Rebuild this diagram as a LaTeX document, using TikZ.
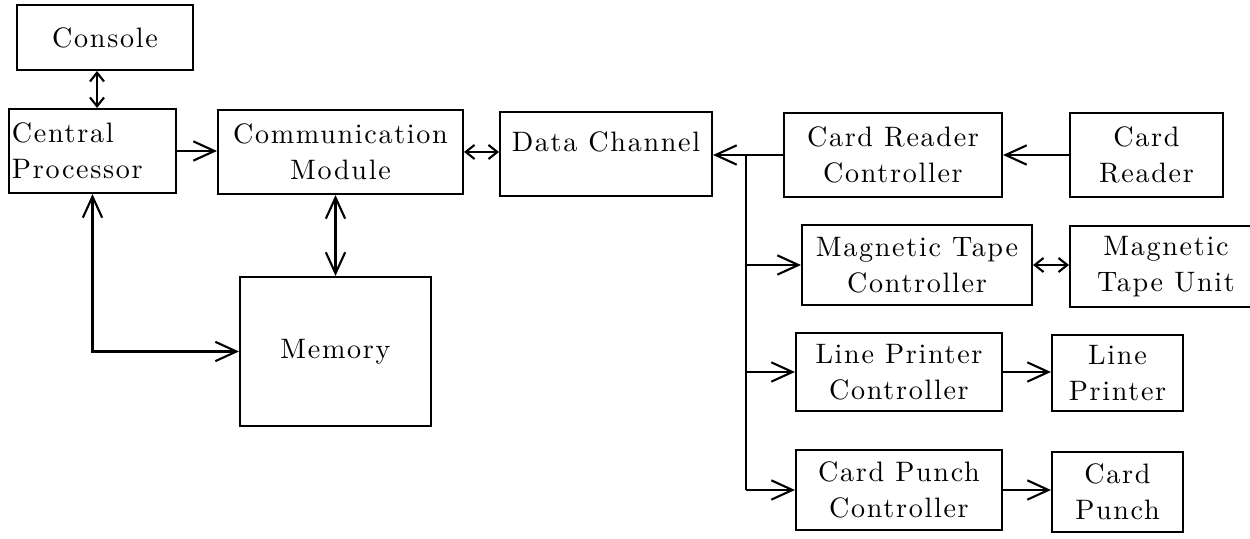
\documentclass[tikz,border=0pt]{standalone}
\usepackage{fontspec}
\setmainfont{lmroman10-regular}[Extension=.otf, LetterSpace=6]
\usetikzlibrary{arrows.meta}

\begin{document}
\begin{tikzpicture}[
    every node/.style={font=\fontsize{16}{20.5}\selectfont},
    unit/.style={draw, line width=1.2pt, align=center, inner sep=0pt},
    link/.style={line width=1.2pt},
    sbarb/.tip={Straight Barb[length=5pt,width=8pt]},
    lbarb/.tip={Straight Barb[length=12pt,width=11pt]}
]
    \useasboundingbox (0,0) rectangle (25,-10.78);

    % processor side
    \node[unit, minimum width=3.52cm, minimum height=1.30cm] (console) at (2.10,-0.75) {Console};
    \node[unit, minimum width=3.34cm, minimum height=1.68cm, text width=3.22cm, align=left] (cpu) at (1.85,-3.02) {Central\\Processor};
    \node[unit, minimum width=4.90cm, minimum height=1.68cm] (comm) at (6.81,-3.04) {Communication\\Module};
    \node[unit, minimum width=4.24cm, minimum height=1.68cm, text depth=0.5cm] (chan) at (12.12,-3.08) {Data Channel};
    \node[unit, minimum width=3.82cm, minimum height=2.98cm] (mem) at (6.71,-7.03) {Memory};

    % peripherals
    \node[unit, minimum width=4.36cm, minimum height=1.68cm] (crc) at (17.86,-3.10) {Card Reader\\Controller};
    \node[unit, minimum width=3.06cm, minimum height=1.68cm] (cr) at (22.93,-3.10) {Card\\Reader};
    \node[unit, minimum width=4.60cm, minimum height=1.60cm] (mtc) at (18.34,-5.30) {Magnetic Tape\\Controller};
    \node[unit, minimum width=3.84cm, minimum height=1.62cm] (mtu) at (23.32,-5.33) {Magnetic\\Tape Unit};
    \node[unit, minimum width=4.12cm, minimum height=1.56cm] (lpc) at (17.98,-7.44) {Line Printer\\Controller};
    \node[unit, minimum width=2.62cm, minimum height=1.52cm] (lp) at (22.35,-7.46) {Line\\Printer};
    \node[unit, minimum width=4.12cm, minimum height=1.60cm] (cpc) at (17.98,-9.80) {Card Punch\\Controller};
    \node[unit, minimum width=2.62cm, minimum height=1.60cm] (punch) at (22.35,-9.84) {Card\\Punch};

    % connections
    \draw[link, sbarb-sbarb] ([xshift=-0.16cm]console.south) -- ([xshift=-0.16cm]console.south |- cpu.north);
    \draw[link, -lbarb] (cpu.east) -- (cpu.east -| comm.west);
    \draw[link, sbarb-sbarb] (comm.east) -- (comm.east -| chan.west);
    \draw[link, lbarb-lbarb] (cpu.south) |- (mem.west);
    \draw[link, lbarb-lbarb] (comm.south -| mem.north) -- (mem.north);

    \coordinate (bus) at (14.92,-3.10);
    \draw[link, -lbarb] (crc.west) -- (crc.west -| chan.east);
    \draw[link] (bus) -- (bus |- cpc.west);
    \foreach \dev in {mtc,lpc,cpc}
        \draw[link, -lbarb] (bus |- \dev.west) -- (\dev.west);

    \draw[link, -lbarb] (cr.west) -- (cr.west -| crc.east);
    \draw[link, sbarb-sbarb] (mtc.east) -- (mtc.east -| mtu.west);
    \draw[link, -lbarb] (lpc.east) -- (lpc.east -| lp.west);
    \draw[link, -lbarb] (cpc.east) -- (cpc.east -| punch.west);
\end{tikzpicture}
\end{document}
